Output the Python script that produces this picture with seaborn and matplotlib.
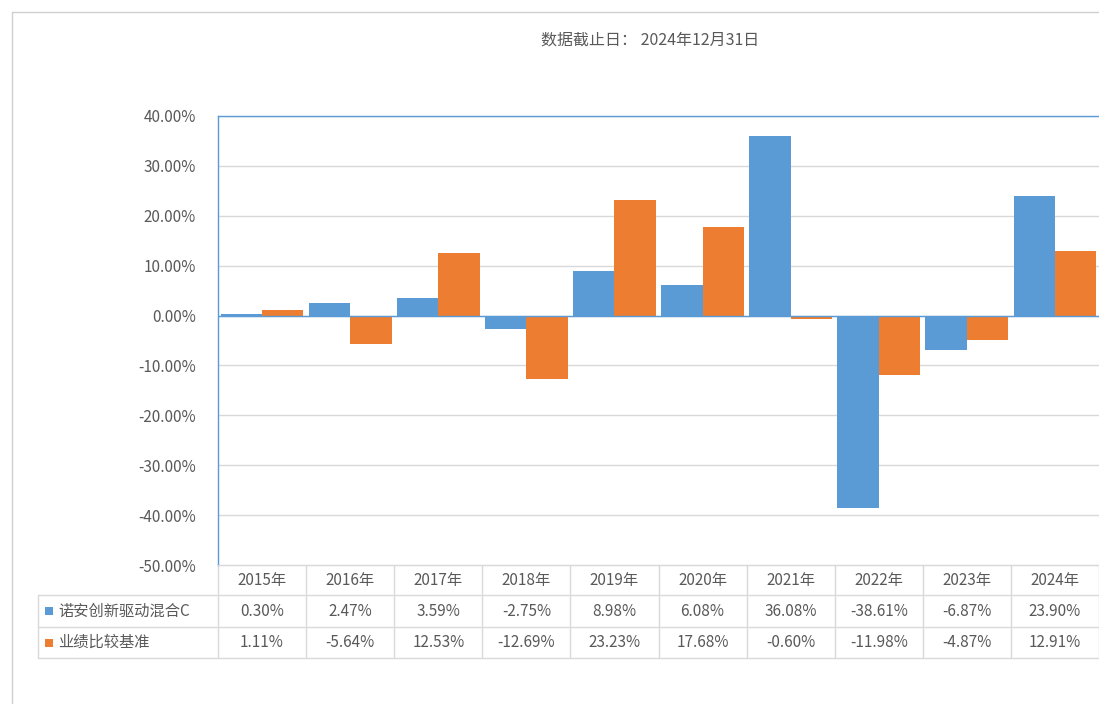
import pandas as pd
import seaborn as sns
import matplotlib.pyplot as plt
from matplotlib.lines import Line2D
from matplotlib.ticker import FuncFormatter

# Datos
years = ["2015年", "2016年", "2017年", "2018年", "2019年", "2020年", "2021年", "2022年", "2023年", "2024年"]
fund_name = "诺安创新驱动混合C"
bench_name = "业绩比较基准"
fund_values = [0.30, 2.47, 3.59, -2.75, 8.98, 6.08, 36.08, -38.61, -6.87, 23.90]
bench_values = [1.11, -5.64, 12.53, -12.69, 23.23, 17.68, -0.60, -11.98, -4.87, 12.91]
title = "数据截止日： 2024年12月31日"

blue = "#5B9BD5"
orange = "#ED7D31"
grey_text = "#595959"
grid_col = "#D9D9D9"

df = pd.DataFrame({
    "year": years * 2,
    "series": [fund_name] * len(years) + [bench_name] * len(years),
    "value": fund_values + bench_values,
})

sns.set_style("white")
plt.rcParams["font.family"] = ["Noto Sans CJK SC", "DejaVu Sans"]

W, H = 1099, 704
fig = plt.figure(figsize=(W / 100, H / 100), dpi=100)

# area del grafico (en pixeles)
left, right, top, bottom = 218, 1099, 116, 565
ax = fig.add_axes([left / W, 1 - bottom / H, (right - left) / W, (bottom - top) / H])

sns.barplot(data=df, x="year", y="value", hue="series", order=years,
            hue_order=[fund_name, bench_name], palette=[blue, orange],
            saturation=1, width=0.94, gap=0, linewidth=0, legend=False, ax=ax, zorder=3)

ax.set_ylim(-50, 40)
ax.set_xlim(-0.5, len(years) - 0.5)
ax.set_yticks(range(-50, 41, 10))
ax.yaxis.set_major_formatter(FuncFormatter(lambda v, p: f"{v:.2f}%"))
ax.tick_params(axis="y", labelsize=11, labelcolor=grey_text, length=0, pad=16)
ax.set_xticks([])
ax.set_xlabel("")
ax.set_ylabel("")
ax.grid(axis="y", color=grid_col, linewidth=1, zorder=0)
ax.axhline(0, color=blue, linewidth=1, zorder=4)
for s in ["left", "top"]:
    ax.spines[s].set_color(blue)
    ax.spines[s].set_linewidth(1)
ax.spines["right"].set_visible(False)
ax.spines["bottom"].set_color(grid_col)

# Titulo
fig.text(650 / W, 1 - 40 / H, title, ha="center", va="center", fontsize=11.5, color=grey_text)

# Marco exterior
fig.add_artist(Line2D([12 / W, 1], [1 - 12 / H, 1 - 12 / H], color="#D0D0D0", linewidth=1))
fig.add_artist(Line2D([12 / W, 12 / W], [0, 1 - 12 / H], color="#D0D0D0", linewidth=1))

# Tabla de datos
tab = fig.add_axes([0, 0, 1, 1], zorder=-1)
tab.set_xlim(0, W)
tab.set_ylim(H, 0)
tab.axis("off")
cw = (right - left) / len(years)
rows_y = [565, 595, 627, 658]
tab.plot([left, W], [rows_y[0]] * 2, color=grid_col, lw=1)
for y in rows_y[1:]:
    tab.plot([38, W], [y, y], color=grid_col, lw=1)
tab.plot([38, 38], [rows_y[1], rows_y[3]], color=grid_col, lw=1)
for i in range(len(years) + 1):
    x = left + i * cw
    tab.plot([x, x], [rows_y[0], rows_y[3]], color=grid_col, lw=1)

fs = 11
for i, yr in enumerate(years):
    cx = left + (i + 0.5) * cw
    tab.text(cx, (rows_y[0] + rows_y[1]) / 2, yr, ha="center", va="center", fontsize=fs, color=grey_text)
    tab.text(cx, (rows_y[1] + rows_y[2]) / 2, f"{fund_values[i]:.2f}%", ha="center", va="center", fontsize=fs, color=grey_text)
    tab.text(cx, (rows_y[2] + rows_y[3]) / 2, f"{bench_values[i]:.2f}%", ha="center", va="center", fontsize=fs, color=grey_text)

for (name, col, r) in [(fund_name, blue, 1), (bench_name, orange, 2)]:
    cy = (rows_y[r] + rows_y[r + 1]) / 2
    tab.scatter([49], [cy], marker="s", s=40, color=col, linewidths=0)
    tab.text(58, cy, name, ha="left", va="center", fontsize=fs, color=grey_text)

plt.savefig("out.png", dpi=100)
